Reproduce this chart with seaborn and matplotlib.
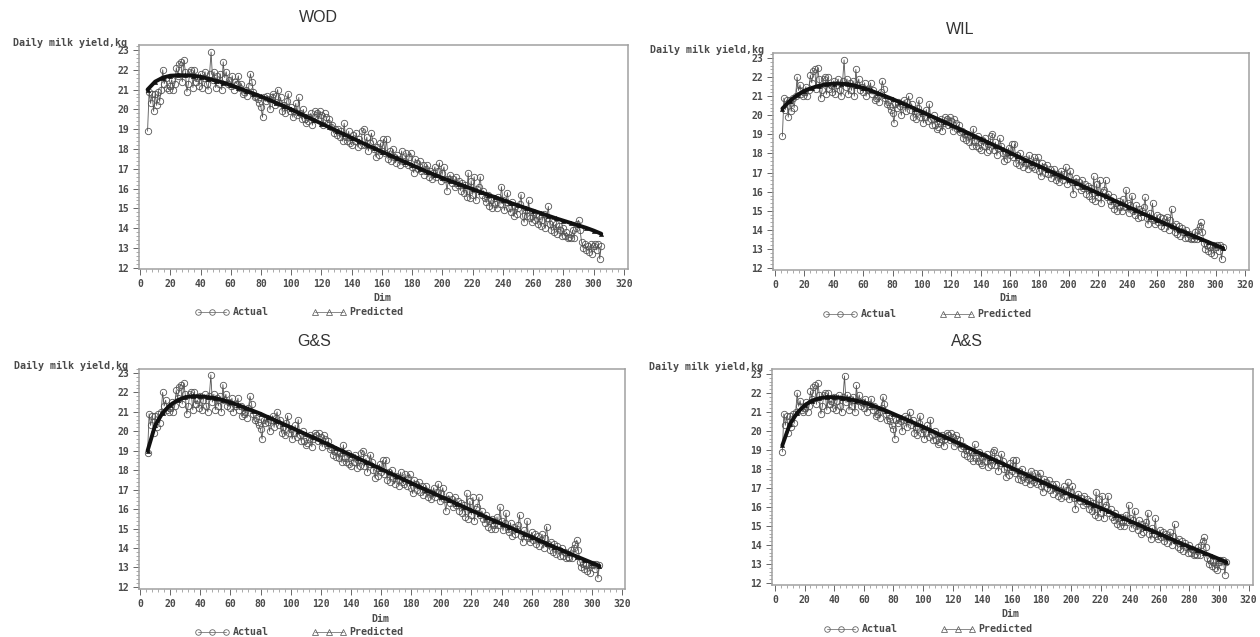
import numpy as np
import pandas as pd
import matplotlib
matplotlib.use("Agg")
import matplotlib.pyplot as plt
from matplotlib.lines import Line2D
from matplotlib.ticker import AutoMinorLocator, MultipleLocator
import seaborn as sns

sns.set_style("white")

# ----------------------------------------------
# DATA
# ----------------------------------------------

actual = [
    18.9, 20.9, 20.3, 20.8, 19.9, 20.8, 20.2, 20.9, 20.4, 21.0,
    22.0, 21.3, 21.6, 21.1, 21.0, 21.2, 21.5, 21.0, 21.3, 22.1,
    21.7, 22.3, 22.4, 21.4, 22.5, 21.9, 20.9, 21.3, 21.9, 22.0,
    21.1, 22.0, 21.4, 21.6, 21.2, 21.8, 21.1, 21.6, 21.9, 21.3,
    21.0, 21.8, 22.9, 21.5, 21.9, 21.1, 21.7, 21.3, 21.8, 21.0,
    22.4, 21.6, 21.9, 21.3, 21.5, 21.2, 21.7, 21.0, 21.4, 21.3,
    21.7, 21.1, 21.3, 20.8, 20.9, 21.0, 20.7, 21.2, 21.8, 21.4,
    20.9, 20.6, 20.7, 20.5, 20.3, 20.1, 19.6, 20.6, 20.4, 20.7,
    20.5, 20.0, 20.6, 20.8, 20.2, 20.7, 21.0, 20.3, 20.6, 19.9,
    20.2, 19.8, 20.4, 20.8, 19.9, 20.1, 19.6, 19.9, 20.3, 19.7,
    20.6, 19.8, 19.5, 20.0, 19.5, 19.3, 19.4, 19.6, 19.8, 19.2,
    19.6, 19.9, 19.8, 19.5, 19.9, 19.7, 19.2, 19.8, 19.6, 19.3,
    19.5, 19.1, 19.2, 18.8, 19.0, 18.7, 19.0, 18.6, 18.9, 18.4,
    19.3, 18.6, 18.4, 18.9, 18.3, 18.2, 18.7, 18.4, 18.8, 18.1,
    18.5, 18.2, 18.9, 19.0, 18.2, 18.6, 17.9, 18.3, 18.8, 18.4,
    18.0, 17.6, 18.1, 17.7, 18.3, 17.9, 18.5, 17.8, 18.5, 17.5,
    17.9, 17.4, 18.0, 17.6, 17.3, 17.7, 17.5, 17.2, 17.9, 17.4,
    17.3, 17.8, 17.2, 17.6, 17.8, 17.1, 16.8, 17.5, 17.3, 17.0,
    17.4, 16.9, 17.2, 16.7, 17.0, 17.2, 16.6, 16.9, 16.5, 16.8,
    17.1, 16.6, 16.9, 17.3, 16.4, 16.8, 17.1, 16.5, 15.9, 16.5,
    16.7, 16.3, 16.5, 16.1, 16.6, 16.2, 16.4, 15.9, 16.3, 15.8,
    16.2, 15.6, 16.8, 15.5, 16.4, 15.7, 16.6, 15.4, 16.0, 16.1,
    16.6, 15.7, 15.9, 15.5, 15.3, 15.7, 15.1, 15.4, 15.0, 15.5,
    15.2, 15.0, 15.6, 15.2, 16.1, 15.4, 14.9, 15.3, 15.8, 15.0,
    14.8, 15.3, 14.6, 15.1, 14.7, 15.0, 15.2, 15.7, 14.6, 14.3,
    14.9, 14.6, 15.4, 14.5, 14.3, 14.8, 14.4, 14.7, 14.2, 14.6,
    14.1, 14.4, 14.7, 14.0, 14.5, 15.1, 14.2, 13.9, 14.3, 13.8,
    14.2, 13.7, 14.1, 13.9, 13.6, 14.0, 13.6, 13.8, 13.5, 13.55,
    13.5, 13.9, 13.5, 14.0, 14.2, 14.4, 13.9, 13.3, 13.0, 13.2,
    12.9, 13.1, 12.8, 13.2, 12.7, 13.1, 13.2, 12.9, 13.2, 12.45,
    13.1,
]
actual_dim = list(range(5, 306))

predicted_dim = list(range(5, 306, 5))

pred_wod = [
    21.0, 21.4, 21.6, 21.7, 21.72, 21.72, 21.7, 21.65, 21.55, 21.45,
    21.35, 21.22, 21.08, 20.94, 20.8, 20.65, 20.5, 20.33, 20.17, 20.0,
    19.82, 19.64, 19.46, 19.28, 19.1, 18.92, 18.74, 18.56, 18.38, 18.2,
    18.03, 17.86, 17.69, 17.52, 17.35, 17.18, 17.01, 16.85, 16.69, 16.53,
    16.39, 16.25, 16.11, 15.97, 15.83, 15.69, 15.56, 15.42, 15.28, 15.15,
    15.02, 14.89, 14.76, 14.63, 14.5, 14.38, 14.26, 14.14, 14.02, 13.88,
    13.72,
]
pred_wil = [
    20.35, 20.75, 21.05, 21.28, 21.43, 21.55, 21.62, 21.66, 21.66, 21.62,
    21.54, 21.43, 21.3, 21.15, 21.0, 20.85, 20.68, 20.52, 20.35, 20.18,
    20.0, 19.83, 19.66, 19.48, 19.3, 19.12, 18.94, 18.76, 18.58, 18.4,
    18.22, 18.04, 17.86, 17.68, 17.5, 17.33, 17.15, 16.98, 16.8, 16.62,
    16.45, 16.27, 16.1, 15.92, 15.75, 15.57, 15.4, 15.22, 15.05, 14.87,
    14.7, 14.52, 14.35, 14.18, 14.0, 13.85, 13.68, 13.52, 13.36, 13.2,
    13.05,
]
pred_gs = [
    19.0, 20.3, 20.95, 21.35, 21.6, 21.75, 21.8, 21.8, 21.75, 21.7,
    21.6, 21.48, 21.35, 21.2, 21.05, 20.9, 20.72, 20.55, 20.38, 20.2,
    20.03, 19.85, 19.68, 19.5, 19.32, 19.14, 18.96, 18.78, 18.6, 18.42,
    18.24, 18.06, 17.88, 17.7, 17.52, 17.34, 17.16, 16.98, 16.8, 16.63,
    16.46, 16.28, 16.11, 15.93, 15.76, 15.58, 15.41, 15.24, 15.07, 14.9,
    14.73, 14.56, 14.39, 14.22, 14.05, 13.89, 13.72, 13.56, 13.4, 13.24,
    13.08,
]
pred_as = [
    19.25, 20.35, 20.95, 21.35, 21.6, 21.72, 21.78, 21.78, 21.74, 21.68,
    21.6, 21.5, 21.37, 21.22, 21.07, 20.9, 20.73, 20.56, 20.39, 20.22,
    20.04, 19.86, 19.68, 19.5, 19.32, 19.14, 18.96, 18.78, 18.6, 18.42,
    18.24, 18.06, 17.88, 17.7, 17.52, 17.34, 17.16, 16.98, 16.8, 16.63,
    16.46, 16.29, 16.12, 15.95, 15.78, 15.6, 15.43, 15.26, 15.09, 14.92,
    14.75, 14.58, 14.41, 14.24, 14.07, 13.91, 13.75, 13.59, 13.43, 13.27,
    13.1,
]

df_actual = pd.DataFrame({"dim": actual_dim, "yield": actual})

# ----------------------------------------------
# LAYOUT (pixels in the 1260x637 picture)
# ----------------------------------------------

W, H = 1260, 637
TEXT = "#4a4a4a"
MONO = "DejaVu Sans Mono"

panels = [
    dict(title="WOD", pred=pred_wod, box=(138.5, 628, 45, 269),
         xlim=(-1, 322.7), ylim=(11.94, 23.25),
         title_xy=(318, 18), ylab_xy=(70, 43), xlab_xy=(382, 298), leg_xy=(299, 312.5)),
    dict(title="WIL", pred=pred_wil, box=(773, 1249, 53, 270),
         xlim=(-1.4, 322.7), ylim=(11.9, 23.26),
         title_xy=(960, 29), ylab_xy=(707, 50), xlab_xy=(1008, 298), leg_xy=(927, 314)),
    dict(title="G&S", pred=pred_gs, box=(139, 625, 369, 589),
         xlim=(-0.7, 322), ylim=(11.89, 23.2),
         title_xy=(314, 342), ylab_xy=(71, 366), xlab_xy=(380, 619), leg_xy=(299, 632)),
    dict(title="A&S", pred=pred_as, box=(772, 1253, 369, 585),
         xlim=(-2, 323), ylim=(11.9, 23.26),
         title_xy=(967, 342), ylab_xy=(706, 367), xlab_xy=(1010, 614), leg_xy=(928, 629)),
]


def fx(x):
    return x / W


def fy(y):
    return 1 - y / H


fig = plt.figure(figsize=(W / 100, H / 100), dpi=100)

for p in panels:
    left, right, top, bottom = p["box"]
    ax = fig.add_axes([fx(left), fy(bottom), (right - left) / W, (bottom - top) / H])

    sns.lineplot(data=df_actual, x="dim", y="yield", ax=ax, estimator=None,
                 color="#555555", linewidth=0.6, marker="o", markersize=4.6,
                 markerfacecolor="none", markeredgecolor="#555555",
                 markeredgewidth=0.6, legend=False)

    df_pred = pd.DataFrame({"dim": predicted_dim, "yield": p["pred"]})
    sns.lineplot(data=df_pred, x="dim", y="yield", ax=ax, estimator=None,
                 color="#111111", linewidth=2.8, marker="^", markersize=3,
                 markerfacecolor="#111111", markeredgecolor="#111111",
                 markeredgewidth=0.4, legend=False)

    ax.set_xlim(*p["xlim"])
    ax.set_ylim(*p["ylim"])
    ax.xaxis.set_major_locator(MultipleLocator(20))
    ax.yaxis.set_major_locator(MultipleLocator(1))
    ax.xaxis.set_minor_locator(AutoMinorLocator(5))
    ax.yaxis.set_minor_locator(AutoMinorLocator(5))
    ax.tick_params(which="major", bottom=True, left=True, length=4, width=0.7,
                   color="#666666", labelsize=7, labelcolor=TEXT, pad=3)
    ax.tick_params(which="minor", bottom=True, left=True, length=2, width=0.5,
                   color="#888888")
    for lab in ax.get_xticklabels() + ax.get_yticklabels():
        lab.set_family(MONO)
        lab.set_fontweight("bold")
    ax.set_xlabel("")
    ax.set_ylabel("")
    for s in ax.spines.values():
        s.set_color("#a0a0a0")
        s.set_linewidth(1.1)

    fig.text(fx(p["title_xy"][0]), fy(p["title_xy"][1]), p["title"], ha="center", va="center",
             family="Liberation Sans", fontsize=11.5, color="#333333")
    fig.text(fx(p["ylab_xy"][0]), fy(p["ylab_xy"][1]), "Daily milk yield,kg", ha="center", va="center",
             family=MONO, fontweight="bold", fontsize=7.2, color=TEXT)
    fig.text(fx(p["xlab_xy"][0]), fy(p["xlab_xy"][1]), "Dim", ha="center", va="center",
             family=MONO, fontweight="bold", fontsize=7.2, color=TEXT)

    handles = [
        Line2D([], [], color="#777777", lw=0.6, marker="o", ms=4, mfc="none",
               mec="#666666", mew=0.6, label="Actual"),
        Line2D([], [], color="#777777", lw=0.6, marker="^", ms=4, mfc="none",
               mec="#666666", mew=0.6, label="Predicted"),
    ]
    fig.legend(handles=handles, loc="center", ncol=2, numpoints=3, frameon=False,
               bbox_to_anchor=(fx(p["leg_xy"][0]), fy(p["leg_xy"][1])),
               prop={"family": MONO, "weight": "bold", "size": 7.2},
               labelcolor=TEXT, handlelength=3.4, handletextpad=0.4,
               columnspacing=4.3, borderpad=0, borderaxespad=0)

plt.savefig("out.png", dpi=100)
plt.close()
